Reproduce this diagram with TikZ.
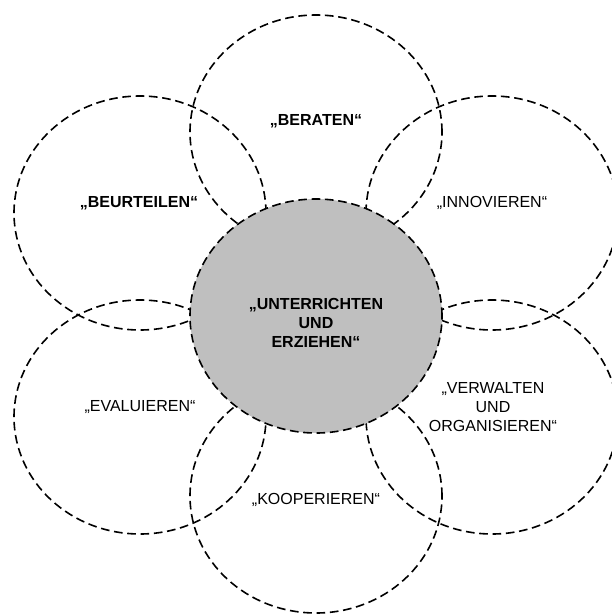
\documentclass[tikz,border=0pt]{standalone}
\usepackage{fontspec}
\setmainfont{Liberation Sans}
\usetikzlibrary{shapes.geometric}

\begin{document}
\begin{tikzpicture}[
x=0.75pt, y=-0.75pt,
petal/.style={ellipse,draw,dash pattern=on 6.5pt off 3.5pt,line width=1.2pt,minimum width=189pt,minimum height=175.5pt,inner sep=0},
core/.style={petal,fill=gray!50},
txt/.style={font=\fontsize{12}{14}\selectfont,align=center,inner sep=0},
txtb/.style={txt,font=\fontsize{12}{14}\selectfont\bfseries}
]
\useasboundingbox (0,0) rectangle (611,614);

% outer ellipses
\node[petal] (beraten) at (316,132) {};
\node[petal] (beurteilen) at (140,213) {};
\node[petal] (innovieren) at (492,213) {};
\node[petal] (evaluieren) at (140,417) {};
\node[petal] (verwalten) at (492,417) {};
\node[petal] (kooperieren) at (316,496) {};

% center
\node[core] (unterrichten) at (316,316) {};

% labels
\node[txtb] (tberaten) at (316,121) {„BERATEN“};
\node[txtb] (tbeurteilen) at (139,203) {„BEURTEILEN“};
\node[txt] (tinnovieren) at (492,203) {„INNOVIEREN“};
\node[txtb] (tunterrichten) at (316,323) {„UNTERRICHTEN\\UND\\ERZIEHEN“};
\node[txt] (tevaluieren) at (140,407) {„EVALUIEREN“};
\node[txt] (tverwalten) at (493,407) {„VERWALTEN\\UND\\ORGANISIEREN“};
\node[txt] (tkooperieren) at (316,500) {„KOOPERIEREN“};

\end{tikzpicture}
\end{document}
